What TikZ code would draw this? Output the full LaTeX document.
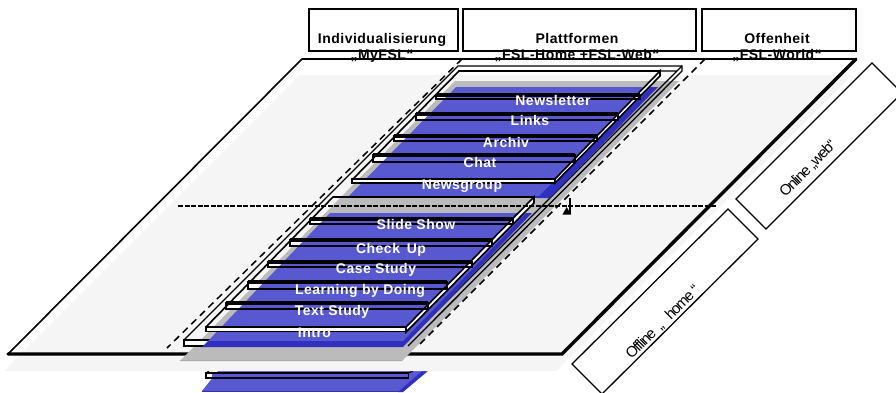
\documentclass[tikz,border=0pt]{standalone}
\usepackage{fontspec}
\setmainfont{Liberation Sans}
\newfontfamily\headfont[LetterSpace=3.5]{Liberation Sans Bold}
\newfontfamily\sidefont[LetterSpace=-8]{Liberation Sans}
\usepackage{xcolor}
\definecolor{shadow}{HTML}{F5F5F5}
\definecolor{slab}{HTML}{BBBBBB}
\definecolor{slabdark}{HTML}{ABABAB}
\definecolor{layer}{HTML}{5858D0}
\definecolor{layerdark}{HTML}{3030C0}

\begin{document}
\begin{tikzpicture}[x=1pt,y=-1pt,%
		   headbox/.style={draw,line width=1.6pt},
		   headtext/.style={font=\headfont\fontsize{14}{14}\selectfont,text=black,inner sep=0pt,anchor=base},
		   stripe/.style={draw,line width=1.6pt,line join=miter},
		   stripetext/.style={font=\headfont\fontsize{14}{14}\selectfont,text=white,inner sep=0pt,anchor=base},
		   sidebox/.style={draw,line width=1.3pt,fill=white},
		   sidetext/.style={font=\sidefont\fontsize{15}{15}\selectfont,rotate=45,inner sep=0pt},
		   planeline/.style={line width=1.6pt},
		   planethick/.style={line width=3.4pt,line cap=round}]

	    \clip (0,0) rectangle (896,392);

	    % reflection below the plane
	    \fill[layer] (218,371) -- (422,371) -- (403,391) -- (202,391) -- cycle;
	    \fill[layerdark] (422,371) -- (428,371) -- (403,392) -- (398,392) -- cycle;
	    \fill[layerdark] (202,390.5) rectangle (403,392);
	    \draw[stripe,fill=white] (206,373) rectangle (408,378);
	    \fill[layer] (212,373.8) rectangle (408,377.2);
	    \draw[line width=1.3pt] (206,373) -- (209,371) (408,373) -- (413,371);
	    % plane
	    \fill[shadow] (300,75) -- (852,75) -- (556,371) -- (4,371) -- cycle;
	    \draw[planeline] (8,354) -- (302,59) -- (856,59);
	    \draw[planethick] (8,354) -- (562,354) -- (856,59);
	    % grey slab
	    \fill[slab] (455,81) -- (679,81) -- (402,361) -- (180,361) -- cycle;
	    \fill[slabdark] (180,359.5) rectangle (402,361);
	    \draw[line width=1.5pt,dash pattern=on 7pt off 5pt] (462,59) -- (167,348);
	    \draw[line width=1.5pt,dash pattern=on 7pt off 5pt] (705,59) -- (417,347);
	    % outer plate
	    \draw[line width=1.3pt] (184,340) -- (458,66) -- (682,66) -- (682,71) -- (408,346);
	    \draw[line width=1.3pt] (458,71) -- (677,71) (682,66) -- (677,71) -- (404,344);
	    \draw[stripe,fill=white] (184,340) rectangle (210,346);
	    % white part of the stripes, the blue comes over it
	    \foreach \xl/\ytop/\ybot in {%
	       436/95/99, 416/114/120, 394/136/141, 373/155/162,%
	       310/219/224, 290/240/246, 268/262/267, 248/282/289, 226/303/309%
	       } { \fill[white] (\xl,\ytop) rectangle ++(30,\ybot-\ytop); }
	    % blue layers
	    \fill[layer] (456,87) -- (651,87) -- (544,197) -- (348,197) -- cycle;
	    \fill[layerdark] (651,87) -- (658,87) -- (550,198) -- (537,198) -- cycle;
	    \fill[layerdark] (348,195.5) rectangle (550,198);
	    \fill[layer] (330,213) -- (526,213) -- (403,341) -- (208,341) -- cycle;
	    \fill[layerdark] (526,213) -- (532,213) -- (403,347) -- (403,341) -- cycle;
	    \fill[layerdark] (208,341) -- (403,341) -- (403,347) -- (202,347) -- cycle;
	    % upper and lower stack
	    \draw[stripe] (352,180) -- (459,71) -- (660,71);
	    \draw[stripe,fill=white] (660,71) -- (660,76) -- (555,183) -- (555,179) -- cycle;
	    \draw[stripe,fill=white] (352,179) rectangle (555,183);
	    \draw[stripe] (206,327) -- (333,197) -- (534,197);
	    \draw[stripe,fill=white] (534,197) -- (534,203) -- (406,332) -- (406,327) -- cycle;
	    \draw[stripe,fill=white] (206,327) rectangle (406,331.5);
	    % stripes
	    \foreach \xl/\xr/\ytop/\ybot in {%
	       436/640/95/99, 416/618/114/120, 394/597/136/141, 373/575/155/162,%
	       310/513/219/224, 290/492/240/246, 268/472/262/267, 248/447/282/289, 226/428/303/309%
	       } { \draw[stripe] (\xl,\ybot) rectangle (\xr,\ytop);
		   \draw[line width=3.4pt] (\xl,\ytop) -- (\xr,\ytop);
	       }
	    \foreach \name/\xc/\yc/\desc in {%
	       news/553/105/Newsletter, links/530/125/Links, archiv/506/147/Archiv,%
	       chat/480/167/Chat, group/462/189/Newsgroup, slide/416/229/Slide Show,%
	       check/391/253/Check\,\ Up, case/376/273/Case Study,%
	       doing/360/294/Learning by Doing, text/332/315/Text Study, intro/314.5/337/Intro%
	       } { \node[stripetext] (\name) at (\xc,\yc) {\desc}; }
	    % horizon with marker
	    \draw[line width=2.2pt,dash pattern=on 5pt off 1.5pt] (178,206) -- (716,206);
	    \draw[line width=1.3pt] (570,198) -- (570,214);
	    \fill (566.7,207) -- (571,214.5) -- (562.5,214.5) -- cycle;
	    % column titles
	    \foreach \name/\xl/\xr/\xc/\title/\sub in {%
	       my/309/458/382/Individualisierung/„MyFSL“,%
	       plat/463/696/577/Plattformen/„FSL-Home +FSL-Web“,%
	       open/702/856/777/Offenheit/„FSL-World“%
	       } { \node[headtext] (\name-sub) at (\xc,59) {\sub};
		   \draw[headbox] (\xl,9) rectangle (\xr,51);
		   \node[headtext] (\name) at (\xc,43) {\title};
	       }
	    \draw[line width=1.6pt] (302,59) -- (856,59);
	    % boxes beside the plane
	    \draw[sidebox] (736,199) -- (872,63) -- (902,93) -- (766,229) -- cycle;
	    \node[sidetext] (web) at (808,169) {Online „web“};
	    \draw[sidebox] (572,364) -- (728,209) -- (758,239) -- (602,394) -- cycle;
	    \node[sidetext] (home) at (663,322) {Offline\ \ „\ \ \ home\ “};

	\end{tikzpicture}
\end{document}
